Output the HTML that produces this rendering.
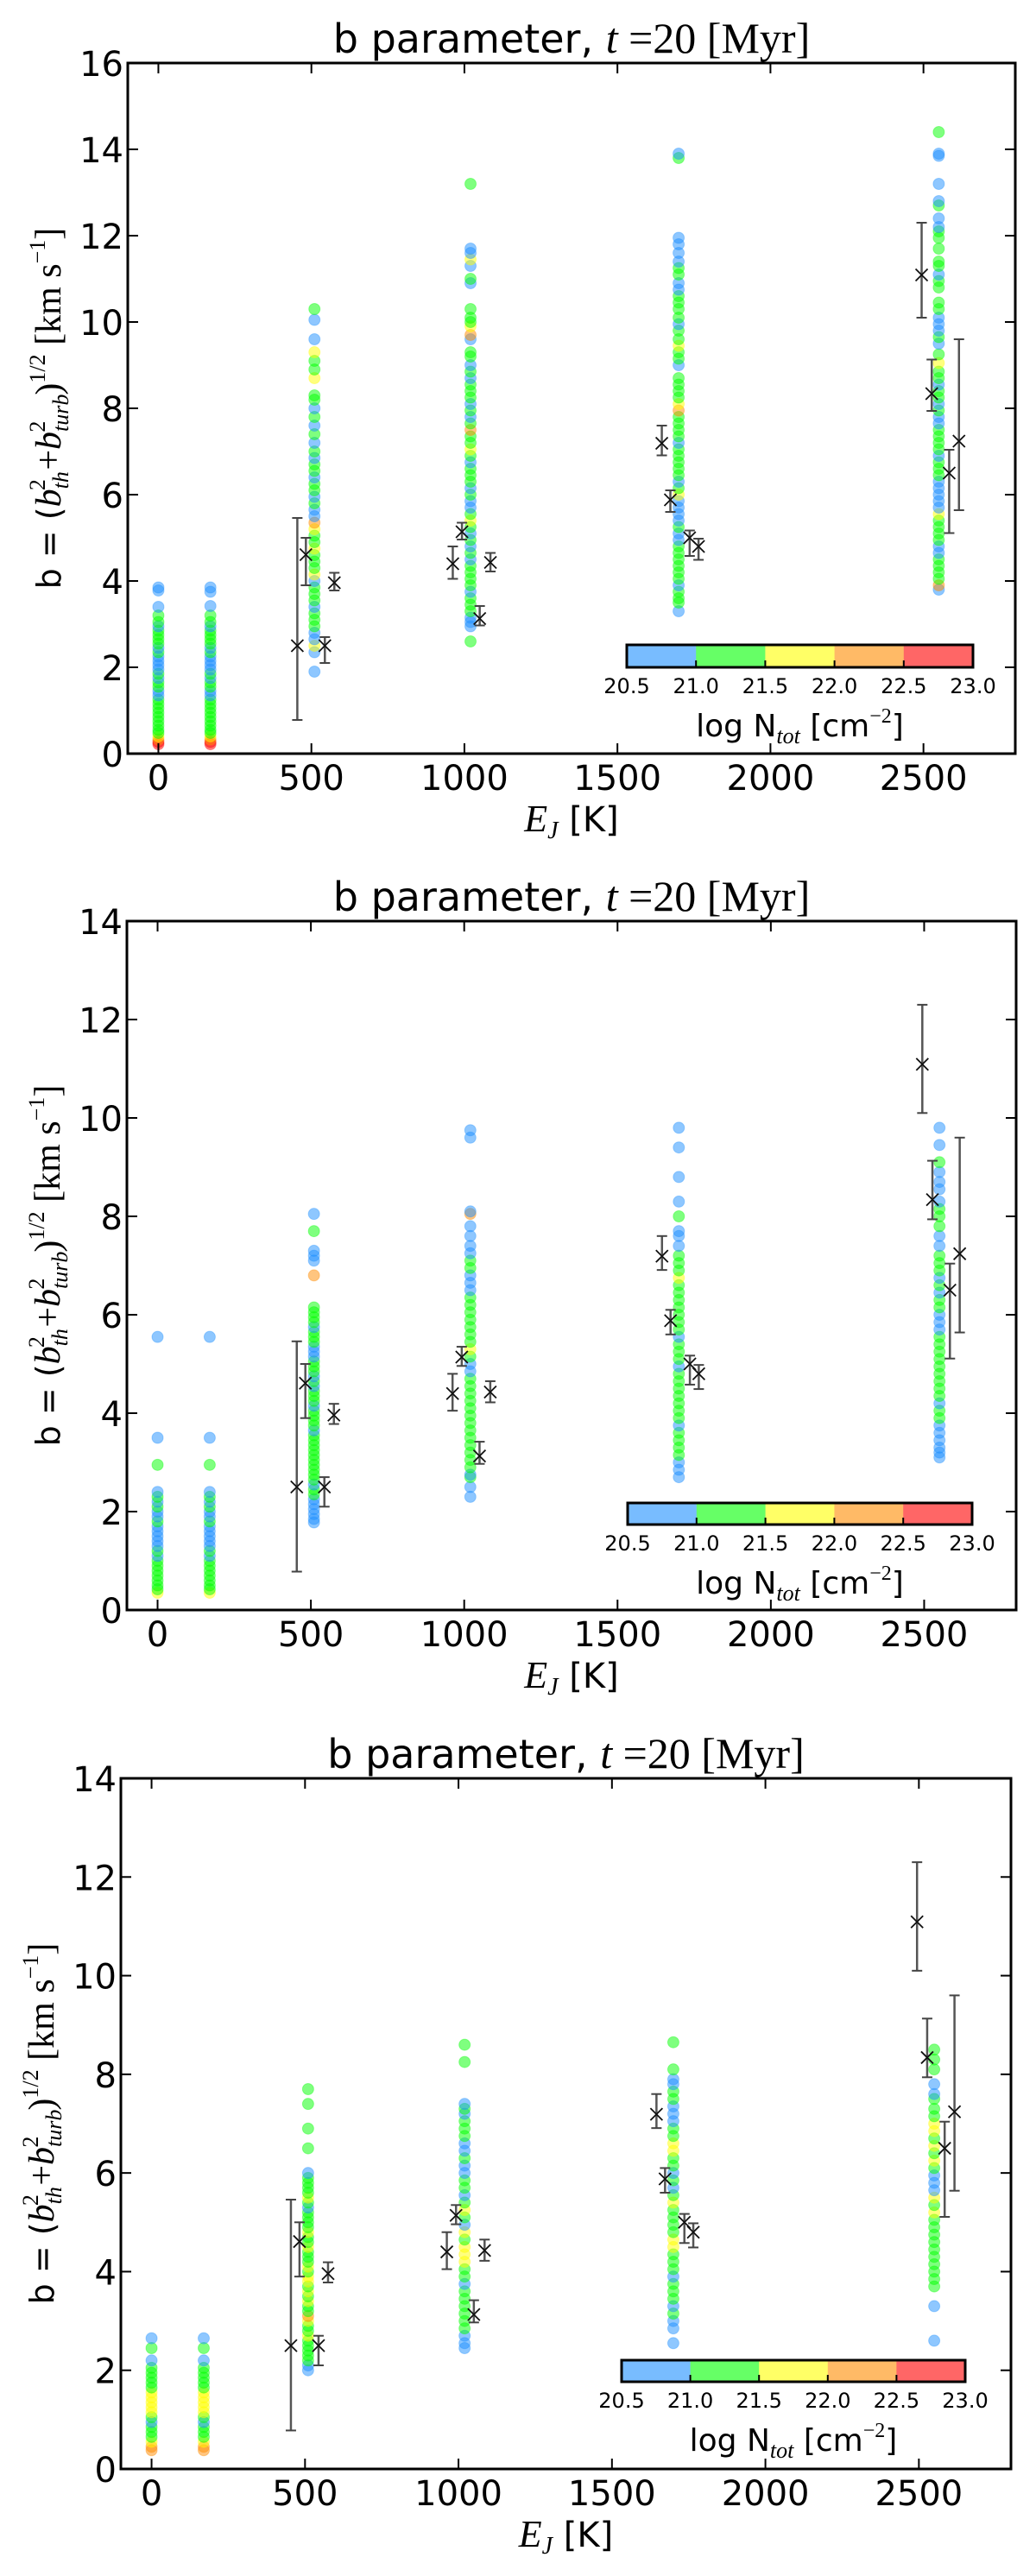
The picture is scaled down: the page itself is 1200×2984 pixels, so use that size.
<!DOCTYPE html>
<html><head><meta charset="utf-8"><title>b parameter</title>
<style>html,body{margin:0;padding:0;background:#fff}svg{display:block}</style></head>
<body>
<svg id="fig" xmlns="http://www.w3.org/2000/svg" width="1200" height="2984" viewBox="0 0 1200 2984" font-family="'DejaVu Sans', 'Liberation Sans', sans-serif"></svg>
<script>
// ---------- data ----------
const colsE = [0,170,510,1020,1700,2550];
const xTicks = [0,500,1000,1500,2000,2500];
const cbTicks = ["20.5","21.0","21.5","22.0","22.5","23.0"];
const errE  = [454,482,544,575,962,992,1050,1085,1645,1673,1736,1765,2494,2527,2584,2616];
const errB  = [2.5,4.61,2.5,3.96,4.4,5.14,3.13,4.43,7.19,5.88,5.0,4.8,11.09,8.34,6.5,7.24];
const errLo = [0.78,3.9,2.1,3.78,4.05,4.96,2.97,4.22,6.91,5.6,4.58,4.49,10.1,7.94,5.11,5.64];
const errHi = [5.46,5.0,2.7,4.19,4.8,5.35,3.42,4.65,7.6,6.1,5.17,4.98,12.3,9.13,7.04,9.6];

// panel 1
const p1c0b=[3.85,3.78,3.4,3.2,3.05,2.95,2.85,2.75,2.65,2.55,2.45,2.35,2.25,2.15,2.05,1.95,1.85,1.75,1.65,1.55,1.45,1.35,1.25,1.15,1.05,0.95,0.85,0.75,0.65,0.55,0.48,0.4,0.33,0.27,0.22];
const p1c0n=[20.8,20.8,20.8,21.2,21.2,20.8,21.2,21.2,21.2,21.2,20.8,21.2,20.8,20.8,20.8,20.8,21.2,20.8,21.2,21.2,20.8,20.8,21.2,21.2,21.2,21.2,21.2,21.2,21.2,21.2,21.2,21.7,22.2,22.7,22.7];
const p1c1b=[3.85,3.75,3.42,3.2,3.05,2.95,2.85,2.75,2.65,2.55,2.45,2.35,2.25,2.15,2.05,1.95,1.85,1.75,1.65,1.55,1.45,1.35,1.25,1.15,1.05,0.95,0.85,0.75,0.65,0.55,0.48,0.4,0.33,0.27,0.22];
const p1c1n=[20.8,20.8,20.8,21.2,21.2,20.8,21.2,21.2,21.2,21.2,20.8,21.2,20.8,20.8,20.8,20.8,21.2,20.8,21.2,21.2,20.8,20.8,21.2,21.2,21.2,21.2,21.2,21.2,21.2,21.2,21.2,21.7,22.2,22.7,22.7];
const p1c2b=[10.3,10.05,9.6,9.3,9.1,8.9,8.7,8.3,8.2,8.0,7.8,7.6,7.4,7.2,7.0,6.85,6.7,6.55,6.4,6.25,6.1,5.95,5.8,5.65,5.5,5.35,5.2,5.05,4.9,4.75,4.6,4.45,4.3,4.15,4.0,3.85,3.7,3.55,3.4,3.25,3.1,2.95,2.8,2.65,2.5,2.35,1.9];
const p1c2n=[21.2,20.8,20.8,21.7,21.2,21.2,21.7,21.2,21.2,20.8,21.2,20.8,21.2,20.8,21.2,20.8,21.2,21.2,20.8,21.2,21.2,20.8,21.2,20.8,20.8,22.2,21.7,21.2,21.2,21.7,21.2,21.2,21.2,21.7,20.8,21.2,21.2,21.2,20.8,21.2,21.2,21.2,20.8,20.8,21.7,20.8,20.8];
const p1c3b=[13.2,11.7,11.6,11.45,11.3,11.0,10.9,10.3,10.1,10.0,9.9,9.7,9.6,9.3,9.2,9.0,8.85,8.7,8.55,8.4,8.25,8.1,7.95,7.8,7.65,7.5,7.35,7.2,7.05,6.9,6.75,6.6,6.45,6.3,6.15,6.0,5.85,5.7,5.55,5.4,5.25,5.1,4.95,4.8,4.65,4.5,4.35,4.2,4.05,3.9,3.75,3.6,3.45,3.3,3.15,3.05,2.95,2.6];
const p1c3n=[21.2,20.8,20.8,21.7,20.8,21.2,20.8,21.2,21.2,21.2,21.7,22.2,20.8,21.2,21.2,20.8,21.2,20.8,21.2,21.2,21.2,20.8,21.2,20.8,21.2,22.2,21.2,21.2,21.7,21.2,20.8,21.2,21.2,21.2,20.8,21.2,20.8,20.8,21.2,21.7,21.2,20.8,21.2,20.8,21.2,20.8,21.2,21.2,21.2,21.2,20.8,21.2,21.2,21.2,20.8,20.8,20.8,21.2];
const p1c4b=[13.9,13.8,11.95,11.8,11.6,11.4,11.25,11.1,10.9,10.75,10.6,10.45,10.3,10.1,9.95,9.8,9.6,9.45,9.3,9.15,9.0,8.7,8.55,8.4,8.25,8.1,7.95,7.8,7.65,7.5,7.35,7.2,7.05,6.9,6.75,6.6,6.45,6.3,6.15,6.0,5.85,5.7,5.55,5.4,5.25,5.1,4.95,4.8,4.65,4.5,4.35,4.2,4.05,3.9,3.75,3.6,3.5,3.3];
const p1c4n=[20.8,21.2,20.8,20.8,20.8,20.8,21.2,21.2,20.8,20.8,21.2,21.2,21.2,21.2,20.8,21.2,21.2,21.7,21.2,21.2,20.8,21.2,21.2,21.2,21.2,21.7,22.2,21.2,21.2,21.2,21.2,20.8,21.2,21.2,21.2,21.2,21.2,20.8,21.2,21.7,20.8,20.8,20.8,20.8,21.2,20.8,20.8,21.2,21.2,21.2,21.2,21.2,21.2,20.8,21.2,21.2,21.2,20.8];
const p1c5b=[14.4,13.9,13.85,13.2,12.8,12.7,12.4,12.2,12.1,11.95,11.7,11.4,11.3,11.1,10.95,10.8,10.45,10.3,10.1,9.95,9.8,9.65,9.5,9.25,9.05,8.85,8.7,8.55,8.4,8.25,8.1,7.95,7.8,7.65,7.5,7.35,7.2,7.05,6.9,6.75,6.6,6.45,6.3,6.15,6.0,5.85,5.7,5.55,5.4,5.25,5.1,4.95,4.8,4.65,4.5,4.35,4.2,4.05,3.9,3.8];
const p1c5n=[21.2,20.8,20.8,20.8,20.8,21.2,20.8,20.8,21.2,21.2,21.2,21.2,21.2,20.8,21.2,21.2,21.2,21.2,20.8,20.8,20.8,21.2,20.8,21.2,21.7,21.2,21.2,20.8,21.2,21.2,20.8,21.2,20.8,20.8,21.2,21.2,21.2,21.2,20.8,21.2,21.2,21.2,20.8,20.8,20.8,20.8,20.8,21.7,21.2,21.2,21.2,21.2,20.8,20.8,21.2,21.2,21.2,21.2,22.2,20.8];

// panel 2
const p2c0b=[5.55,3.5,2.95,2.4,2.3,2.2,2.1,2.0,1.9,1.8,1.7,1.6,1.5,1.4,1.3,1.2,1.1,1.0,0.9,0.8,0.7,0.6,0.5,0.42,0.35];
const p2c0n=[20.8,20.8,21.2,20.8,21.2,20.8,21.2,20.8,20.8,21.2,20.8,20.8,20.8,20.8,20.8,21.2,20.8,21.2,21.2,21.2,21.2,21.2,21.2,21.2,21.7];
const p2c1b=[5.55,3.5,2.95,2.4,2.3,2.2,2.1,2.0,1.9,1.8,1.7,1.6,1.5,1.4,1.3,1.2,1.1,1.0,0.9,0.8,0.7,0.6,0.5,0.42,0.35];
const p2c1n=[20.8,20.8,21.2,20.8,21.2,20.8,21.2,20.8,20.8,21.2,20.8,20.8,20.8,20.8,20.8,21.2,20.8,21.2,21.2,21.2,21.2,21.2,21.2,21.2,21.7];
const p2c2b=[8.05,7.7,7.3,7.2,7.1,6.8,6.15,6.05,5.95,5.85,5.75,5.65,5.55,5.45,5.35,5.25,5.15,5.05,4.95,4.85,4.75,4.65,4.55,4.45,4.35,4.25,4.15,4.05,3.95,3.85,3.75,3.65,3.55,3.45,3.35,3.25,3.15,3.05,2.95,2.85,2.75,2.65,2.55,2.45,2.35,2.25,2.15,2.05,1.95,1.85,1.78];
const p2c2n=[20.8,21.2,20.8,20.8,20.8,22.2,21.2,21.2,21.2,21.2,20.8,21.2,21.2,21.2,20.8,20.8,20.8,21.2,21.2,21.2,20.8,21.2,20.8,21.2,21.2,21.2,20.8,21.2,21.2,21.2,21.2,20.8,21.2,21.2,21.2,21.2,21.2,21.2,21.2,21.2,21.2,21.2,20.8,21.2,21.2,20.8,20.8,20.8,20.8,20.8,20.8];
const p2c3b=[9.75,9.6,8.1,8.05,7.8,7.6,7.4,7.25,7.1,6.95,6.8,6.65,6.5,6.35,6.2,6.05,5.9,5.75,5.6,5.45,5.3,5.15,5.0,4.85,4.7,4.55,4.4,4.25,4.1,3.95,3.8,3.65,3.5,3.35,3.2,3.05,2.9,2.75,2.7,2.5,2.3];
const p2c3n=[20.8,20.8,20.8,22.2,20.8,20.8,20.8,20.8,21.2,21.2,20.8,20.8,20.8,21.2,21.2,21.2,21.2,21.2,21.2,21.2,21.7,21.2,20.8,20.8,21.2,21.2,21.2,21.2,21.2,21.2,21.2,21.2,21.2,21.2,21.2,21.2,21.2,20.8,21.2,20.8,20.8];
const p2c4b=[9.8,9.4,8.8,8.3,8.0,7.7,7.6,7.4,7.2,7.05,6.9,6.75,6.6,6.45,6.3,6.15,6.0,5.85,5.7,5.55,5.4,5.25,5.1,4.95,4.8,4.65,4.5,4.35,4.2,4.05,3.9,3.75,3.6,3.45,3.3,3.15,3.0,2.85,2.7];
const p2c4n=[20.8,20.8,20.6,20.8,21.2,20.8,20.8,20.8,21.2,21.2,21.2,21.7,21.2,21.2,21.2,21.2,21.2,21.2,21.2,20.8,21.2,21.2,21.2,20.8,21.2,21.2,21.2,21.2,21.2,21.2,21.2,20.8,21.2,21.2,21.2,21.2,20.8,20.8,20.8];
const p2c5b=[9.8,9.45,9.1,8.9,8.7,8.55,8.3,8.15,8.0,7.8,7.6,7.4,7.2,7.05,6.9,6.75,6.6,6.45,6.3,6.15,6.0,5.85,5.7,5.55,5.4,5.25,5.1,4.95,4.8,4.65,4.5,4.35,4.2,4.05,3.9,3.75,3.6,3.45,3.3,3.2,3.1];
const p2c5n=[20.8,20.8,21.2,20.8,20.8,20.8,20.8,21.2,21.2,21.2,20.8,20.8,21.2,21.2,21.2,20.8,21.2,20.8,21.2,21.2,20.8,20.8,20.8,21.2,21.2,21.2,21.2,21.2,21.2,21.2,21.2,21.2,20.8,21.2,21.2,20.8,20.8,20.8,20.8,20.8,20.8];

// panel 3
const p3c0b=[2.65,2.45,2.2,2.05,1.95,1.85,1.75,1.65,1.55,1.45,1.35,1.25,1.15,1.05,0.95,0.85,0.75,0.65,0.55,0.45,0.38];
const p3c0n=[20.8,21.0,20.8,21.2,21.2,21.2,21.2,21.2,21.7,21.7,21.7,21.7,21.7,21.2,20.8,21.2,21.2,21.2,21.7,22.2,22.2];
const p3c1b=[2.65,2.45,2.2,2.05,1.95,1.85,1.75,1.65,1.55,1.45,1.35,1.25,1.15,1.05,0.95,0.85,0.75,0.65,0.55,0.45,0.38];
const p3c1n=[20.8,21.0,20.8,21.2,21.2,21.2,21.2,21.2,21.7,21.7,21.7,21.7,21.7,21.2,20.8,21.2,21.2,21.2,21.7,22.2,22.2];
const p3c2b=[7.7,7.4,6.9,6.5,6.0,5.9,5.8,5.7,5.6,5.5,5.4,5.3,5.2,5.1,5.0,4.9,4.8,4.7,4.6,4.5,4.4,4.3,4.2,4.1,4.0,3.9,3.8,3.7,3.6,3.5,3.4,3.3,3.2,3.1,3.0,2.9,2.8,2.7,2.6,2.5,2.4,2.3,2.2,2.1,2.0];
const p3c2n=[21.2,21.2,21.2,21.2,20.8,21.2,21.2,21.2,21.2,21.7,21.2,20.8,21.2,21.2,21.2,21.2,21.7,21.2,21.2,21.7,21.2,21.2,21.2,21.7,21.2,21.7,21.7,21.2,21.7,21.2,21.7,21.2,21.2,22.2,21.7,21.2,21.2,21.7,21.2,21.2,21.2,21.2,21.2,20.8,20.8];
const p3c3b=[8.6,8.25,7.4,7.3,7.2,7.05,6.9,6.75,6.6,6.45,6.3,6.15,6.0,5.85,5.7,5.55,5.4,5.25,5.1,4.95,4.8,4.65,4.5,4.35,4.2,4.05,3.9,3.75,3.6,3.45,3.3,3.15,3.0,2.85,2.7,2.55,2.45];
const p3c3n=[21.2,21.2,20.8,21.2,20.8,21.2,21.2,21.2,20.8,20.8,21.2,20.8,20.8,21.2,21.2,20.8,21.2,21.7,21.2,20.8,21.7,21.2,21.7,21.7,21.7,21.2,21.2,20.8,21.2,21.2,21.2,21.2,21.2,21.2,20.8,20.8,20.8];
const p3c4b=[8.65,8.1,7.9,7.8,7.65,7.5,7.35,7.2,7.05,6.9,6.75,6.6,6.45,6.3,6.15,6.0,5.85,5.7,5.55,5.4,5.25,5.1,4.95,4.8,4.65,4.5,4.35,4.2,4.05,3.9,3.75,3.6,3.45,3.3,3.15,3.0,2.85,2.55];
const p3c4n=[21.2,21.2,20.8,20.8,21.2,21.2,20.8,20.8,20.8,21.2,21.2,21.7,21.7,21.2,21.2,20.8,21.2,20.8,21.2,21.7,21.2,21.2,21.2,21.2,21.7,21.7,21.2,21.2,21.2,20.8,21.2,21.2,21.2,20.8,21.2,20.8,20.8,20.8];
const p3c5b=[8.5,8.3,8.1,7.8,7.6,7.5,7.3,7.15,7.0,6.85,6.7,6.55,6.4,6.25,6.1,5.95,5.8,5.65,5.5,5.35,5.2,5.05,4.9,4.75,4.6,4.45,4.3,4.15,4.0,3.85,3.7,3.3,2.6];
const p3c5n=[21.2,21.2,21.2,20.8,20.8,21.2,21.2,21.2,21.7,21.7,21.2,21.7,21.2,21.7,21.2,20.8,20.8,20.8,21.7,21.2,21.7,21.2,21.2,21.2,21.2,21.2,21.2,21.2,21.2,21.2,21.2,20.8,20.8];

const panelB = [[p1c0b,p1c1b,p1c2b,p1c3b,p1c4b,p1c5b],[p2c0b,p2c1b,p2c2b,p2c3b,p2c4b,p2c5b],[p3c0b,p3c1b,p3c2b,p3c3b,p3c4b,p3c5b]];
const panelN = [[p1c0n,p1c1n,p1c2n,p1c3n,p1c4n,p1c5n],[p2c0n,p2c1n,p2c2n,p2c3n,p2c4n,p2c5n],[p3c0n,p3c1n,p3c2n,p3c3n,p3c4n,p3c5n]];
const panelYmax = [16,14,14];

// ---------- layout ----------
const layout = [
  {l:148,t:73,r:1176,b:873,cx0:726,cx1:1127,cy0:747,cy1:773},
  {l:147,t:1067,r:1177,b:1865,cx0:727,cx1:1126,cy0:1741,cy1:1766},
  {l:140,t:2060,r:1171,b:2860,cx0:720,cx1:1118,cy0:2734,cy1:2759}
];
const NS="http://www.w3.org/2000/svg";
const svg=document.getElementById('fig');
function mk(tag,attrs,parent){const e=document.createElementNS(NS,tag);for(const k in attrs)e.setAttribute(k,attrs[k]);(parent||svg).appendChild(e);return e;}
function binColor(n){if(n<21)return 'rgb(30,144,255)';if(n<21.5)return 'rgb(0,255,0)';if(n<22)return 'rgb(255,255,0)';if(n<22.5)return 'rgb(255,140,0)';return 'rgb(255,0,0)';}
const cbColors=['#78bcff','#66ff66','#ffff66','#ffba66','#ff6666'];
const serif="'Liberation Serif', serif";

layout.forEach((L,pi)=>{
  const g=mk('g',{});
  
  
  const ymax=panelYmax[pi];
  const X=e=>L.l+(e+100)/2900*(L.r-L.l);
  const Y=v=>L.b-v/ymax*(L.b-L.t);
  const cid='clip'+pi;
  const cp=mk('clipPath',{id:cid},g);mk('rect',{x:L.l,y:L.t,width:L.r-L.l,height:L.b-L.t},cp);
  const sg=mk('g',{'clip-path':'url(#'+cid+')'},g);
  
  
  panelB[pi].forEach((col,ci)=>{
    const nn=panelN[pi][ci];
    const m=Math.min(col.length,nn.length);
    for(let i=m-1;i>=0;i--){
      const c=mk('circle',{cx:X(colsE[ci]),cy:Y(col[i]),r:6.5,fill:binColor(nn[i]),'fill-opacity':0.5,stroke:binColor(nn[i]),'stroke-opacity':0.35,'stroke-width':1},sg);
      
      
    }
  });
  const eg=mk('g',{},g);
  
  
  for(let i=0;i<errE.length;i++){
    const x=X(errE[i]);
    mk('line',{x1:x,x2:x,y1:Y(errLo[i]),y2:Y(errHi[i]),stroke:'#555','stroke-width':2.5},eg);
    mk('line',{x1:x-6,x2:x+6,y1:Y(errLo[i]),y2:Y(errLo[i]),stroke:'#444','stroke-width':2},eg);
    mk('line',{x1:x-6,x2:x+6,y1:Y(errHi[i]),y2:Y(errHi[i]),stroke:'#444','stroke-width':2},eg);
    const y=Y(errB[i]);
    const mg=mk('g',{stroke:'#111','stroke-width':1.8},eg);
    
    
    mk('line',{x1:x-7,x2:x+7,y1:y-7,y2:y+7},mg);
    mk('line',{x1:x-7,x2:x+7,y1:y+7,y2:y-7},mg);
  }
  const fr=mk('rect',{x:L.l,y:L.t,width:L.r-L.l,height:L.b-L.t,fill:'none',stroke:'#000','stroke-width':3},g);
  
  
  xTicks.forEach(v=>{
    const x=X(v);
    mk('line',{x1:x,x2:x,y1:L.b,y2:L.b-12,stroke:'#000','stroke-width':2},g);
    mk('line',{x1:x,x2:x,y1:L.t,y2:L.t+12,stroke:'#000','stroke-width':2},g);
    const t=mk('text',{x:x,y:L.b+42,'text-anchor':'middle','font-size':40},g);t.textContent=String(v);
    
    
  });
  for(let v=0;v<=ymax;v+=2){
    const y=Y(v);
    mk('line',{x1:L.l,x2:L.l+12,y1:y,y2:y,stroke:'#000','stroke-width':2},g);
    mk('line',{x1:L.r,x2:L.r-12,y1:y,y2:y,stroke:'#000','stroke-width':2},g);
    const t=mk('text',{x:L.l-5,y:y+15,'text-anchor':'end','font-size':40},g);t.textContent=String(v);
    
    
  }
  const cx=(L.l+L.r)/2;
  const ti=mk('text',{x:cx,y:L.t-12,'text-anchor':'middle','font-size':46},g);
  
  
  ti.innerHTML='b parameter, <tspan font-family="'+serif+'" font-style="italic" font-size="50">t</tspan><tspan font-family="'+serif+'" font-size="50"> =20 [Myr]</tspan>';
  const xl=mk('text',{x:cx,y:L.b+90,'text-anchor':'middle','font-size':40},g);
  
  
  xl.innerHTML='<tspan font-family="'+serif+'" font-style="italic" font-size="44">E</tspan><tspan font-family="'+serif+'" font-style="italic" font-size="28" dy="8">J</tspan><tspan dy="-8"> [K]</tspan>';
  const yc=(L.t+L.b)/2;
  const yl=mk('text',{x:0,y:0,'text-anchor':'middle','font-size':38,transform:'translate('+(L.l-78)+','+yc+') rotate(-90)'},g);
  
  
  yl.innerHTML='b = (<tspan font-family="'+serif+'" font-style="italic" font-size="42">b</tspan>'+
   '<tspan font-family="'+serif+'" font-style="italic" font-size="26" dy="9">th</tspan>'+
   '<tspan font-family="'+serif+'" font-size="26" dx="-22" dy="-27">2</tspan>'+
   '<tspan font-family="'+serif+'" font-size="42" dy="18"> +</tspan><tspan font-family="'+serif+'" font-style="italic" font-size="42">b</tspan>'+
   '<tspan font-family="'+serif+'" font-style="italic" font-size="26" dy="9">turb</tspan>'+
   '<tspan font-family="'+serif+'" font-size="26" dx="-44" dy="-27">2</tspan>'+
   '<tspan font-family="'+serif+'" font-size="42" dx="30" dy="18">)</tspan>'+
   '<tspan font-family="'+serif+'" font-size="26" dy="-18">1/2</tspan>'+
   '<tspan font-family="'+serif+'" font-size="42" dy="18"> [km s</tspan>'+
   '<tspan font-family="'+serif+'" font-size="26" dy="-18">−1</tspan>'+
   '<tspan font-family="'+serif+'" font-size="42" dy="18">]</tspan>';
  const cg=mk('g',{},g);
  
  
  const w=(L.cx1-L.cx0)/5;
  cbColors.forEach((c,i)=>{mk('rect',{x:L.cx0+i*w,y:L.cy0,width:w+0.5,height:L.cy1-L.cy0,fill:c},cg);});
  mk('rect',{x:L.cx0,y:L.cy0,width:L.cx1-L.cx0,height:L.cy1-L.cy0,fill:'none',stroke:'#000','stroke-width':3},cg);
  cbTicks.forEach((s,i)=>{
    const x=L.cx0+i*w;
    if(i>0&&i<5)mk('line',{x1:x,x2:x,y1:L.cy1,y2:L.cy1-8,stroke:'#000','stroke-width':2},cg);
    const t=mk('text',{x:x,y:L.cy1+30,'text-anchor':'middle','font-size':24},cg);t.textContent=s;
    
    
  });
  const cl=mk('text',{x:(L.cx0+L.cx1)/2,y:L.cy1+80,'text-anchor':'middle','font-size':36},cg);
  
  
  cl.innerHTML='log N<tspan font-family="'+serif+'" font-style="italic" font-size="26" dy="8">tot</tspan><tspan dy="-8"> [cm</tspan><tspan font-family="'+serif+'" font-size="24" dy="-16">−2</tspan><tspan dy="16">]</tspan>';
});
</script>
</body></html>
